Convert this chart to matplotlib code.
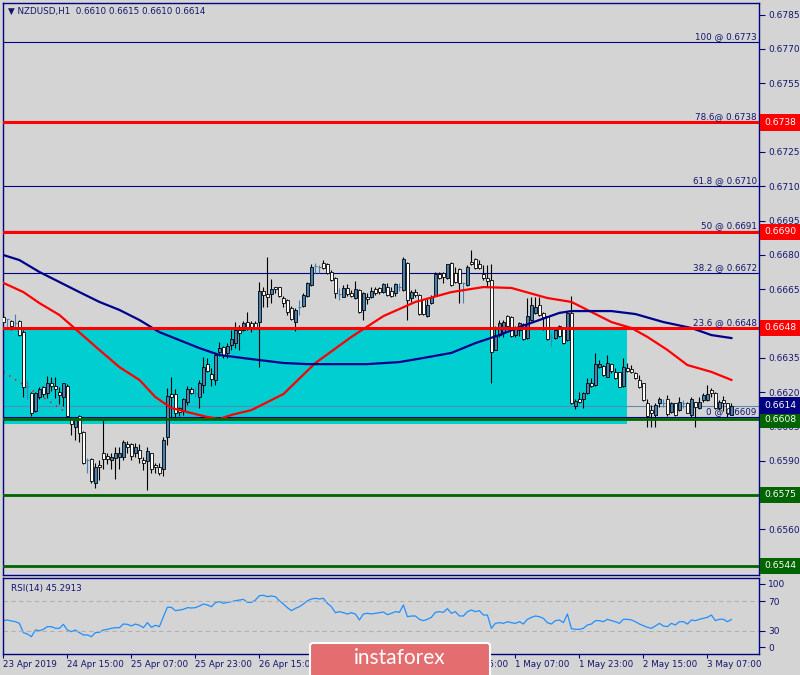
import numpy as np
import matplotlib.pyplot as plt
from matplotlib.patches import Rectangle, FancyBboxPatch
import matplotlib.transforms as mtransforms

# NZDUSD H1, 23 Apr 2019 23:00 .. 3 May 2019, one entry per bar
opens = [.66530, .66518, .66511, .66503, .66511, .66464, .66228, .66197, .66118, .66180,
         .66221, .66197, .66238, .66228, .66199, .66180, .66228, .66081, .66049, .66097,
         .66027, .65903, .65909, .65801, .65879, .65932, .65920, .65903, .65910, .65917,
         .65917, .65973, .65973, .65932, .65946, .65903, .65900, .65932, .65879, .65871,
         .65862, .66002, .66191, .66191, .66129, .66118, .66158, .66212, .66197, .66180,
         .66229, .66323, .66279, .66253, .66377, .66398, .66369, .66406, .66416, .66471,
         .66471, .66508, .66503, .66500, .66508, .66642, .66629, .66629, .66658, .66658,
         .66610, .66603, .66566, .66508, .66573, .66576, .66620, .66668, .66751, .66748,
         .66766, .66760, .66726, .66697, .66629, .66617, .66654, .66632, .66610, .66646,
         .66559, .66617, .66617, .66649, .66654, .66639, .66661, .66642, .66632, .66661,
         .66646, .66766, .66610, .66639, .66624, .66605, .66533, .66588, .66624, .66716,
         .66722, .66697, .66766, .66719, .66737, .66678, .66668, .66770, .66780, .66759,
         .66715, .66697, .66690, .66384, .66449, .66464, .66533, .66530, .66449, .66471,
         .66498, .66435, .66515, .66547, .66581, .66547, .66533, .66442, .66435, .66489,
         .66479, .66428, .66544, .66140, .66168, .66168, .66194, .66238, .66231, .66308,
         .66314, .66267, .66321, .66289, .66289, .66226, .66304, .66299, .66282, .66253,
         .66238, .66151, .66121, .66100, .66151, .66151, .66168, .66114, .66151, .66121,
         .66151, .66154, .66100, .66158, .66129, .66165, .66165, .66209, .66197, .66129,
         .66165, .66151, .66100]
highs = [.66552, .66518, .66515, .66541, .66515, .66471, .66253, .66202, .66202, .66223,
         .66226, .66270, .66267, .66267, .66223, .66241, .66234, .66092, .66092, .66100,
         .66031, .65910, .65910, .65891, .65903, .66078, .65932, .65932, .65961, .65961,
         .65990, .65987, .65979, .65976, .65973, .65917, .65961, .65935, .65888, .65891,
         .66002, .66216, .66264, .66212, .66136, .66172, .66226, .66223, .66223, .66253,
         .66355, .66347, .66304, .66369, .66420, .66401, .66413, .66471, .66508, .66493,
         .66512, .66552, .66511, .66511, .66680, .66661, .66792, .66693, .66661, .66661,
         .66620, .66605, .66576, .66566, .66603, .66632, .66683, .66760, .66766, .66756,
         .66778, .66763, .66734, .66702, .66654, .66668, .66673, .66646, .66687, .66649,
         .66639, .66632, .66661, .66658, .66661, .66678, .66678, .66661, .66678, .66678,
         .66789, .66770, .66646, .66649, .66629, .66608, .66605, .66624, .66724, .66725,
         .66725, .66760, .66769, .66748, .66741, .66683, .66756, .66821, .66785, .66778,
         .66756, .66756, .66760, .66489, .66515, .66515, .66537, .66533, .66489, .66508,
         .66503, .66610, .66617, .66617, .66617, .66552, .66533, .66457, .66479, .66493,
         .66483, .66552, .66620, .66168, .66202, .66202, .66260, .66260, .66369, .66340,
         .66318, .66362, .66323, .66304, .66289, .66347, .66326, .66317, .66289, .66275,
         .66241, .66168, .66143, .66151, .66177, .66168, .66187, .66158, .66154, .66180,
         .66165, .66158, .66180, .66158, .66180, .66194, .66231, .66216, .66202, .66165,
         .66183, .66154, .66150]
lows = [.66500, .66483, .66471, .66483, .66445, .66180, .66168, .66095, .66114, .66168,
        .66180, .66172, .66206, .66172, .66148, .66140, .66092, .66012, .65990, .65980,
        .65885, .65844, .65801, .65779, .65815, .65862, .65885, .65862, .65818, .65865,
        .65903, .65932, .65903, .65914, .65891, .65859, .65771, .65844, .65844, .65836,
        .65833, .65970, .66092, .66092, .66095, .66100, .66143, .66191, .66180, .66129,
        .66194, .66289, .66226, .66231, .66358, .66347, .66347, .66384, .66391, .66384,
        .66468, .66471, .66464, .66474, .66308, .66573, .66573, .66588, .66632, .66617,
        .66573, .66537, .66515, .66468, .66537, .66573, .66617, .66664, .66719, .66719,
        .66737, .66716, .66687, .66610, .66603, .66614, .66620, .66614, .66605, .66547,
        .66515, .66585, .66610, .66624, .66629, .66632, .66620, .66614, .66620, .66643,
        .66643, .66515, .66595, .66614, .66537, .66537, .66527, .66585, .66620, .66693,
        .66675, .66693, .66664, .66675, .66591, .66588, .66664, .66756, .66737, .66737,
        .66690, .66661, .66238, .66384, .66439, .66442, .66483, .66442, .66442, .66445,
        .66428, .66430, .66512, .66541, .66533, .66471, .66428, .66401, .66430, .66442,
        .66410, .66425, .66148, .66124, .66151, .66129, .66191, .66223, .66226, .66304,
        .66270, .66264, .66285, .66255, .66221, .66223, .66289, .66285, .66255, .66219,
        .66162, .66049, .66049, .66049, .66133, .66136, .66095, .66107, .66095, .66118,
        .66129, .66107, .66092, .66049, .66124, .66158, .66162, .66180, .66124, .66121,
        .66118, .66092, .66100]
closes = [.66508, .66518, .66489, .66503, .66448, .66223, .66228, .66110, .66197, .66212,
          .66191, .66238, .66226, .66212, .66187, .66238, .66097, .66059, .66081, .66019,
          .65888, .65903, .65809, .65871, .65871, .65909, .65909, .65917, .65932, .65932,
          .65981, .65958, .65920, .65958, .65910, .65888, .65944, .65862, .65871, .65847,
          .65990, .66183, .66180, .66110, .66114, .66168, .66212, .66197, .66197, .66238,
          .66311, .66291, .66258, .66362, .66391, .66362, .66401, .66432, .66471, .66460,
          .66500, .66483, .66483, .66483, .66642, .66624, .66614, .66649, .66649, .66620,
          .66588, .66552, .66518, .66559, .66573, .66624, .66678, .66748, .66751, .66748,
          .66741, .66719, .66690, .66635, .66629, .66657, .66629, .66620, .66649, .66552,
          .66632, .66608, .66643, .66632, .66639, .66671, .66624, .66620, .66671, .66661,
          .66780, .66603, .66639, .66624, .66541, .66541, .66581, .66614, .66715, .66697,
          .66702, .66759, .66668, .66683, .66675, .66678, .66748, .66759, .66741, .66741,
          .66697, .66687, .66377, .66449, .66503, .66508, .66489, .66445, .66474, .66500,
          .66430, .66533, .66581, .66573, .66537, .66530, .66430, .66442, .66471, .66445,
          .66413, .66544, .66151, .66161, .66158, .66197, .66238, .66226, .66323, .66323,
          .66275, .66328, .66293, .66260, .66223, .66308, .66293, .66289, .66260, .66223,
          .66165, .66095, .66107, .66143, .66168, .66151, .66104, .66151, .66100, .66158,
          .66151, .66110, .66168, .66136, .66158, .66187, .66191, .66197, .66129, .66158,
          .66151, .66107, .66140]

# moving averages, read at some bars
ma_red_bars = [0, 5, 9, 14, 18, 24, 29, 34, 38, 42, 47, 51, 54, 57, 62, 70, 78, 87, 95, 103,
               112, 120, 127, 136, 142, 147, 152, 157, 161, 166, 171, 177, 182]
ma_red = [.66677, .66637, .66589, .66537, .66476, .66384, .66309, .66253, .66178, .66130,
          .66108, .66091, .66082, .66100, .66121, .66191, .66327, .66441, .66532, .66594,
          .66637, .66659, .66655, .66611, .66594, .66550, .66506, .66480, .66441, .66384,
          .66318, .66288, .66253]
ma_navy_bars = [0, 4, 9, 14, 19, 24, 29, 34, 39, 44, 49, 54, 62, 70, 76, 91, 99, 105, 112, 118,
                124, 129, 134, 139, 142, 152, 158, 165, 172, 177, 182]
ma_navy = [.66799, .66777, .66725, .66681, .66637, .66594, .66559, .66515, .66462, .66427,
           .66392, .66362, .66344, .66327, .66322, .66322, .66331, .66349, .66371, .66414,
           .66449, .66484, .66515, .66546, .66554, .66554, .66541, .66506, .66480, .66449,
           .66436]

rsi = [43.8, 44.7, 43.3, 42.4, 40.2, 27.8, 26.0, 22.4, 31.3, 30.4,
       32.2, 35.8, 35.8, 33.6, 33.6, 38.9, 31.3, 29.1, 31.3, 27.8,
       24.7, 24.7, 22.4, 27.8, 28.2, 31.3, 32.2, 33.6, 34.4, 34.4,
       39.3, 38.9, 36.7, 39.3, 37.6, 34.4, 41.1, 34.9, 37.6, 35.8,
       49.1, 61.6, 61.6, 57.1, 58.0, 58.9, 61.1, 60.7, 61.1, 63.3,
       66.0, 64.7, 62.4, 67.8, 69.1, 66.9, 68.2, 69.1, 70.4, 71.3,
       72.2, 68.2, 68.2, 71.3, 77.1, 77.6, 75.8, 76.7, 75.8, 70.4,
       66.0, 61.1, 57.1, 60.2, 62.4, 66.0, 70.4, 72.7, 73.6, 72.7,
       73.6, 66.9, 62.4, 54.4, 55.8, 54.4, 52.7, 54.4, 52.7, 44.7,
       52.7, 53.6, 52.7, 53.6, 54.4, 55.3, 51.8, 53.6, 55.8, 54.9,
       64.7, 49.1, 50.0, 50.0, 45.6, 43.8, 45.6, 48.2, 54.9, 55.8,
       54.9, 59.8, 53.6, 55.8, 50.0, 50.0, 55.8, 58.0, 55.8, 57.1,
       51.3, 51.3, 33.6, 40.2, 41.1, 40.2, 42.4, 41.1, 40.2, 42.4,
       39.3, 45.6, 48.2, 50.0, 49.1, 46.9, 41.1, 39.3, 43.8, 44.7,
       41.1, 52.7, 33.1, 32.2, 32.2, 33.6, 38.0, 39.3, 43.8, 43.8,
       42.4, 45.6, 43.8, 42.4, 40.2, 45.6, 45.6, 44.7, 42.4, 39.3,
       37.1, 34.9, 33.6, 36.7, 40.2, 36.7, 35.8, 40.2, 38.0, 42.4,
       42.4, 39.3, 44.7, 43.8, 45.6, 46.9, 48.2, 51.3, 43.8, 45.6,
       45.6, 42.4, 45.3]

fibo_levels = [0.6773, 0.6738, 0.6710, 0.66903, 0.6672, 0.6648, 0.6609]
fibo_labels = ["100 @ 0.6773", "78.6@ 0.6738", "61.8 @ 0.6710", "50 @ 0.6691",
               "38.2 @ 0.6672", "23.6 @ 0.6648", "0 @ 0.6609"]
red_levels = [0.6738, 0.6690, 0.6648]
green_levels = [0.6608, 0.6575, 0.6544]
bid = 0.6614
zone_low, zone_high, zone_end = 0.6606, 0.6648, 155.9
trend_bars = [0, 16]
trend_prices = [0.66288, 0.66108]

price_ticks = [0.6545, 0.6560, 0.6575, 0.6590, 0.6605, 0.6620, 0.6635, 0.6650, 0.6665,
               0.6680, 0.6695, 0.6710, 0.6725, 0.6740, 0.6755, 0.6770, 0.6785]
time_bars = [0, 16, 32, 48, 64, 80, 96, 112, 128, 144, 160, 176]
time_labels = ["23 Apr 2019", "24 Apr 15:00", "25 Apr 07:00", "25 Apr 23:00", "26 Apr 15:00",
               "29 Apr 07:00", "29 Apr 23:00", "30 Apr 15:00", "1 May 07:00", "1 May 23:00",
               "2 May 15:00", "3 May 07:00"]

BG = '#d4d4d4'
NAVY = '#000080'
TXT = '#14146e'
FS = 6.3

plt.rcParams['font.family'] = ['DejaVu Sans']
fig = plt.figure(figsize=(8, 6.75), dpi=100, facecolor=BG)
ax = fig.add_axes([3/800, 1-575/675, 756/800, 572/675], facecolor=BG)
rax = fig.add_axes([3/800, 1-654/675, 756/800, 76/675], facecolor=BG)

n = len(closes)
x = np.arange(n)
o = np.array(opens); c = np.array(closes)
h = np.maximum(np.array(highs), np.maximum(o, c))
l = np.minimum(np.array(lows), np.minimum(o, c))

# zone
ax.add_patch(Rectangle((-1, zone_low), zone_end + 1, zone_high - zone_low,
                       facecolor='#00ced1', edgecolor='none', zorder=1))

# fibo lines + labels
blend = mtransforms.blended_transform_factory(ax.transAxes, ax.transData)
for lev, lab in zip(fibo_levels, fibo_labels):
    ax.axhline(lev, color=NAVY, lw=0.8, zorder=2)
    ax.text(0.997, lev + 0.00004, lab, transform=blend, ha='right', va='bottom',
            fontsize=FS, color=TXT, zorder=6)

ax.axhline(bid, color='#5a8cba', lw=0.8, zorder=2)
ax.plot(trend_bars, trend_prices, color='red', lw=1, ls=(0, (1, 4)), zorder=2)

# candles
doji = o == c
bull = (c > o) & ~doji
bear = (c < o) & ~doji
ax.vlines(x[~doji], l[~doji], h[~doji], color='black', lw=0.8, zorder=3)
ax.vlines(x[doji], l[doji], h[doji], color='#4682b4', lw=0.8, zorder=3)
ax.hlines(c[doji], x[doji] - 0.35, x[doji] + 0.35, color='#4682b4', lw=0.8, zorder=3)
ax.bar(x[bull], (c - o)[bull], bottom=o[bull], width=0.6, color='#4682b4',
       edgecolor='black', lw=0.6, zorder=4)
ax.bar(x[bear], (o - c)[bear], bottom=c[bear], width=0.6, color='white',
       edgecolor='black', lw=0.6, zorder=4)

# moving averages
ax.plot(ma_red_bars, ma_red, color='#ff0000', lw=1.6, zorder=5)
ax.plot(ma_navy_bars, ma_navy, color='#00008b', lw=1.6, zorder=5)

for lev in red_levels:
    ax.axhline(lev, color='#ff0000', lw=2.2, zorder=5)
for lev in green_levels:
    ax.axhline(lev, color='#006400', lw=2, zorder=5)

# price tags on the scale
def tag(price, col):
    ax.text(1.007, price, f"{price:.4f}", transform=blend, ha='left', va='center',
            fontsize=6.6, color='white', zorder=7,
            bbox=dict(boxstyle='square,pad=0.42', fc=col, ec='none'))

for lev in red_levels:
    tag(lev, '#ff0000')
for lev in green_levels:
    tag(lev, '#006400')
tag(bid, '#000080')

ax.set_xlim(-0.1, 188.9)
ax.set_ylim(0.65400, 0.67901)
ax.yaxis.tick_right()
ax.set_yticks(price_ticks)
ax.set_yticklabels([f"{p:.4f}" for p in price_ticks])
ax.tick_params(axis='y', colors=NAVY, labelcolor=TXT, labelsize=6.5, length=4, width=0.8, pad=2.5)
ax.set_xticks([])
for s in ax.spines.values():
    s.set_color(NAVY)
    s.set_linewidth(1)

# RSI panel
rax.plot(x, rsi, color='#1e90ff', lw=0.9)
for lev in (30, 70):
    rax.axhline(lev, color='#b0b0b0', lw=0.8, ls=(0, (4, 3)))
rax.set_xlim(-0.1, 188.9)
rax.set_ylim(-0.7, 100.7)
rax.yaxis.tick_right()
rax.set_yticks([8.3, 30, 70, 93])
rax.set_yticklabels(['0', '30', '70', '100'])
rax.tick_params(axis='y', colors=NAVY, labelcolor=TXT, labelsize=6.5, length=4, width=0.8, pad=2.5)
rax.set_xticks(time_bars)
rax.set_xticklabels(time_labels)
rax.tick_params(axis='x', colors=NAVY, labelcolor=TXT, labelsize=FS, length=3, width=0.8, pad=1.5)
for t in rax.get_xticklabels():
    t.set_ha('left')
for s in rax.spines.values():
    s.set_color(NAVY)
    s.set_linewidth(1)
rax.text(8/756, 0.86, "RSI(14) 45.2913", transform=rax.transAxes, fontsize=FS,
         color=TXT, va='center')

fig.text(8/800, 1-11/675, "\u25bc NZDUSD,H1  0.6610 0.6615 0.6610 0.6614", fontsize=FS,
         color=TXT, va='center')

# logo
fig.patches.append(FancyBboxPatch((310/800, -4/675), 180/800, 36/675,
                                  boxstyle='round,pad=0,rounding_size=0.004',
                                  transform=fig.transFigure, fc='#e36d6f', ec='white',
                                  lw=1.5, zorder=10))
fig.text(400/800, 1-658/675, "instaforex", fontsize=15, color='white', ha='center',
         va='center', family='Lato', zorder=11)

fig.savefig('out.png', dpi=100, facecolor=fig.get_facecolor())
